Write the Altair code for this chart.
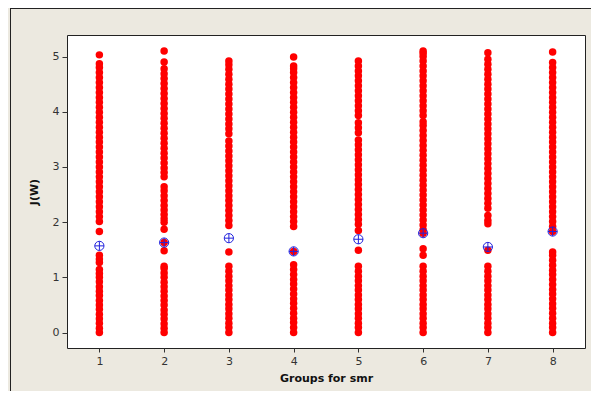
import altair as alt
import pandas as pd

groups = [1, 2, 3, 4, 5, 6, 7, 8]

g1 = [0.00, 0.08, 0.17, 0.25, 0.33, 0.42, 0.50, 0.58, 0.67, 0.75, 0.83, 0.92, 1.00, 1.07, 1.14,
      1.27, 1.33, 1.40, 1.83,
      2.01, 2.10, 2.19, 2.28, 2.37, 2.46, 2.55, 2.64, 2.73, 2.82, 2.91, 3.00, 3.09, 3.18, 3.27,
      3.36, 3.45, 3.54, 3.63, 3.72, 3.81, 3.90, 3.99, 4.08, 4.17, 4.26, 4.35, 4.44, 4.53, 4.62,
      4.71, 4.80, 4.87, 5.03]
g2 = [0.00, 0.08, 0.16, 0.25, 0.33, 0.41, 0.50, 0.58, 0.66, 0.75, 0.83, 0.91, 1.00, 1.08, 1.16, 1.20,
      1.48, 1.63, 1.87,
      2.00, 2.06, 2.14, 2.22, 2.30, 2.39, 2.48, 2.57, 2.64, 2.82, 2.90, 2.98, 3.07, 3.16, 3.25,
      3.34, 3.43, 3.52, 3.61, 3.70, 3.79, 3.88, 3.97, 4.06, 4.15, 4.24, 4.33, 4.42, 4.51, 4.60,
      4.69, 4.78, 4.90, 5.10]
g3 = [0.00, 0.09, 0.17, 0.26, 0.34, 0.43, 0.51, 0.60, 0.68, 0.77, 0.85, 0.94, 1.02, 1.11, 1.20,
      1.46,
      1.94, 2.03, 2.12, 2.21, 2.30, 2.39, 2.48, 2.57, 2.66, 2.75, 2.84, 2.93, 3.02, 3.11, 3.20,
      3.29, 3.38, 3.47, 3.60, 3.69, 3.78, 3.87, 3.96, 4.05, 4.14, 4.23, 4.32, 4.41, 4.50, 4.59,
      4.68, 4.77, 4.85, 4.92]
g4 = [0.00, 0.09, 0.18, 0.26, 0.35, 0.44, 0.53, 0.61, 0.70, 0.79, 0.88, 0.96, 1.05, 1.14, 1.23,
      1.47,
      1.92, 2.01, 2.10, 2.19, 2.28, 2.37, 2.46, 2.55, 2.64, 2.73, 2.82, 2.91, 3.00, 3.09, 3.18,
      3.27, 3.36, 3.45, 3.54, 3.63, 3.72, 3.81, 3.90, 3.99, 4.08, 4.17, 4.26, 4.35, 4.44, 4.53,
      4.62, 4.71, 4.78, 4.83, 4.99]
g5 = [0.00, 0.09, 0.17, 0.26, 0.34, 0.43, 0.51, 0.60, 0.68, 0.77, 0.85, 0.94, 1.02, 1.11, 1.20,
      1.49, 1.85,
      1.96, 2.05, 2.14, 2.23, 2.32, 2.41, 2.50, 2.59, 2.68, 2.77, 2.86, 2.95, 3.04, 3.13, 3.22,
      3.31, 3.40, 3.49, 3.62, 3.71, 3.80, 3.93, 4.02, 4.11, 4.20, 4.29, 4.38, 4.47, 4.56, 4.65,
      4.74, 4.83, 4.92]
g6 = [0.00, 0.09, 0.17, 0.26, 0.34, 0.43, 0.51, 0.60, 0.68, 0.77, 0.85, 0.94, 1.02, 1.11, 1.20,
      1.40, 1.52, 1.80,
      1.86, 1.95, 2.04, 2.13, 2.22, 2.31, 2.40, 2.49, 2.58, 2.67, 2.76, 2.85, 2.94, 3.03, 3.12,
      3.21, 3.30, 3.39, 3.48, 3.57, 3.66, 3.75, 3.82, 3.93, 4.02, 4.11, 4.20, 4.29, 4.38, 4.47,
      4.56, 4.65, 4.74, 4.83, 4.92, 5.00, 5.06, 5.10]
g7 = [0.00, 0.09, 0.17, 0.26, 0.34, 0.43, 0.51, 0.60, 0.68, 0.77, 0.85, 0.94, 1.02, 1.11, 1.20,
      1.49,
      1.97, 2.03, 2.12, 2.25, 2.34, 2.43, 2.52, 2.61, 2.70, 2.79, 2.88, 2.97, 3.06, 3.15, 3.24,
      3.33, 3.42, 3.51, 3.60, 3.69, 3.78, 3.87, 3.96, 4.05, 4.14, 4.23, 4.32, 4.41, 4.50, 4.59,
      4.68, 4.77, 4.86, 4.95, 5.07]
g8 = [0.00, 0.09, 0.17, 0.26, 0.35, 0.44, 0.52, 0.61, 0.70, 0.78, 0.87, 0.96, 1.05, 1.13, 1.22,
      1.31, 1.40, 1.46, 1.83,
      1.92, 2.01, 2.10, 2.19, 2.28, 2.37, 2.46, 2.55, 2.64, 2.73, 2.82, 2.91, 3.00, 3.09, 3.18,
      3.27, 3.36, 3.45, 3.54, 3.63, 3.72, 3.81, 3.90, 3.99, 4.08, 4.17, 4.26, 4.35, 4.44, 4.53,
      4.62, 4.71, 4.80, 4.89, 5.08]

means = [1.57, 1.63, 1.71, 1.47, 1.69, 1.80, 1.55, 1.83]

y_ticks = [0, 1, 2, 3, 4, 5]

all_vals = [g1, g2, g3, g4, g5, g6, g7, g8]
rows = []
for g, vals in zip(groups, all_vals):
    for v in vals:
        rows.append({"group": g, "J": v})
pts = pd.DataFrame(rows)
mdf = pd.DataFrame({"group": groups, "J": means})

xscale = alt.Scale(domain=[0.5, 8.5], nice=False, zero=False)
yscale = alt.Scale(domain=[-0.28, 5.39], nice=False, zero=False)

font = "DejaVu Sans"

xaxis = alt.Axis(values=groups, title="Groups for smr", grid=False, domain=False,
                 tickSize=4, tickColor="#333", labelColor="#333", labelFont=font,
                 labelFontSize=11, labelPadding=3, titleFont=font, titleFontSize=11,
                 titleFontWeight="bold", titleColor="#111", titlePadding=6, format="d")
yaxis = alt.Axis(values=y_ticks, title="J(W)", grid=False, domain=False,
                 tickSize=5, tickColor="#333", labelColor="#333", labelFont=font,
                 labelFontSize=11, labelPadding=3, titleFont=font, titleFontSize=11,
                 titleFontWeight="bold", titleColor="#111", titlePadding=13, format="d")

dots = alt.Chart(pts).mark_circle(color="#FF0000", opacity=1, size=56).encode(
    x=alt.X("group:Q", scale=xscale, axis=xaxis),
    y=alt.Y("J:Q", scale=yscale, axis=yaxis),
)

cross_circle = "M-1,0A1,1 0 1,1 1,0A1,1 0 1,1 -1,0ZM-1,0L1,0M0,-1L0,1"
mean_marks = alt.Chart(mdf).mark_point(shape=cross_circle, filled=False, stroke="#2222DD",
                                        strokeWidth=1, size=85, opacity=1).encode(
    x=alt.X("group:Q", scale=xscale),
    y=alt.Y("J:Q", scale=yscale),
)

frame_df = pd.DataFrame({"k": [0]})
top_border = alt.Chart(frame_df).mark_rule(color="#222", strokeWidth=1).encode(
    x=alt.value(-56.5), x2=alt.value(524), y=alt.value(-26.5))
left_border = alt.Chart(frame_df).mark_rule(color="#222", strokeWidth=1).encode(
    x=alt.value(-56.5), y=alt.value(-27), y2=alt.value(356))

chart = alt.layer(dots, mean_marks, top_border, left_border).properties(
    width=518, height=313,
    autosize=alt.AutoSizeParams(type="none"),
    padding={"left": 59, "top": 27, "right": 6, "bottom": 43},
    background="#ECE9E0",
).configure_view(stroke="#222", strokeWidth=1, fill="white")

chart.save("out.html", embed_options={"renderer": "svg", "actions": False})
